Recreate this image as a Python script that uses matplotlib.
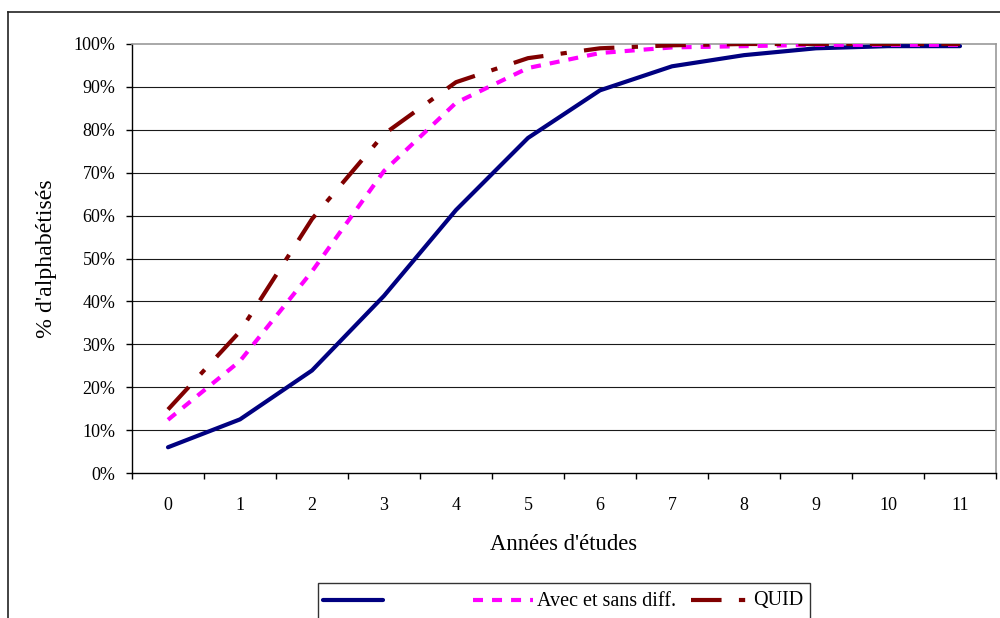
import matplotlib
matplotlib.use("Agg")
import matplotlib.pyplot as plt
from matplotlib.lines import Line2D
from matplotlib.patches import Rectangle
from matplotlib.ticker import FixedLocator, FuncFormatter

# --- data -----------------------------------------------------------------
years = list(range(12))
year_labels = [str(y) for y in years]

serie_base = [6.0, 12.5, 23.9, 41.3, 61.3, 78.1, 89.2, 94.8, 97.4, 99.0, 99.5, 99.5]
serie_avec_sans = [12.4, 26.1, 47.0, 70.4, 86.3, 94.4, 97.9, 99.2, 99.5, 99.8, 99.8, 99.8]
serie_quid = [14.8, 33.0, 59.2, 79.0, 91.1, 96.7, 99.0, 99.7, 100.0, 100.0, 100.0, 100.0]

legend_labels = ["", "Avec et sans diff.", "QUID"]
y_ticks = list(range(0, 101, 10))

# --- style ----------------------------------------------------------------
plt.rcParams["font.family"] = ["Liberation Serif", "DejaVu Serif"]
plt.rcParams["lines.scale_dashes"] = False

W, H = 1000, 618
fig = plt.figure(figsize=(W / 100, H / 100), dpi=100)
fig.patch.set_facecolor("white")


def fx(x):
    return x / W


def fy(y):
    return 1 - y / H


ax = fig.add_axes([fx(132), fy(473), fx(996) - fx(132), fy(44) - fy(473)])

styles = [
    dict(color="#000080", linewidth=3.0, linestyle="-", solid_capstyle="round"),
    dict(color="#FF00FF", linewidth=3.0, dashes=(7.2, 6.5), dash_capstyle="butt"),
    dict(color="#800000", linewidth=3.0, dashes=(22, 12.5, 4.5, 12.5), dash_capstyle="butt"),
]

# grid
for v in y_ticks[1:-1]:
    ax.axhline(v, color="#1a1a1a", linewidth=0.8, zorder=1)

for values, st in zip([serie_base, serie_avec_sans, serie_quid], styles):
    ax.plot(years, values, zorder=3, **st)

ax.set_xlim(-0.5, 11.5)
ax.set_ylim(0, 100)

# category axis: ticks between categories, labels centered
ax.xaxis.set_major_locator(FixedLocator([i - 0.5 for i in range(13)]))
ax.xaxis.set_minor_locator(FixedLocator(years))
ax.xaxis.set_major_formatter(FuncFormatter(lambda v, p: ""))
ax.xaxis.set_minor_formatter(FuncFormatter(lambda v, p: year_labels[int(round(v))]))
ax.tick_params(axis="x", which="major", direction="out", length=4.5, width=1, color="black")
ax.tick_params(axis="x", which="minor", length=0, pad=17, labelsize=13)

ax.yaxis.set_major_locator(FixedLocator(y_ticks))
ax.yaxis.set_major_formatter(FuncFormatter(lambda v, p: f"{int(v)}%"))
ax.tick_params(axis="y", direction="out", length=4, width=1, pad=8, labelsize=13)

for side in ["left", "bottom"]:
    ax.spines[side].set_color("black")
    ax.spines[side].set_linewidth(1.0)
for side in ["top", "right"]:
    ax.spines[side].set_color("#999999")
    ax.spines[side].set_linewidth(1.2)

ax.set_xlabel("Années d'études", fontsize=16.3)
ax.xaxis.set_label_coords(0.5, -(545 - 473) / 429)
ax.xaxis.label.set_verticalalignment("center")

ax.set_ylabel("% d'alphabétisés", fontsize=17.2)
ax.yaxis.set_label_coords(-(132 - 47) / 864, 0.5)
ax.yaxis.label.set_verticalalignment("center")

# outer chart frame
fig.add_artist(Line2D([fx(8), fx(1000)], [fy(12), fy(12)], color="#222222",
                      linewidth=1.2, transform=fig.transFigure))
fig.add_artist(Line2D([fx(8), fx(8)], [fy(12), fy(618)], color="#222222",
                      linewidth=1.2, transform=fig.transFigure))

# legend box
fig.add_artist(Rectangle((fx(318), fy(625)), fx(810) - fx(318), fy(583) - fy(625),
                         facecolor="white", edgecolor="#333333", linewidth=1.0,
                         transform=fig.transFigure, zorder=5))
handle_spans = [(323, 383), (473, 533), (691, 751)]
text_x = [388, 537, 753]
for (x0, x1), tx, lab, st in zip(handle_spans, text_x, legend_labels, styles):
    fig.add_artist(Line2D([fx(x0), fx(x1)], [fy(600), fy(600)],
                          transform=fig.transFigure, zorder=6, **st))
    fig.text(fx(tx), fy(601), lab, fontsize=14.5, va="center", ha="left", zorder=6)

fig.savefig("out.png", dpi=100, facecolor="white")
